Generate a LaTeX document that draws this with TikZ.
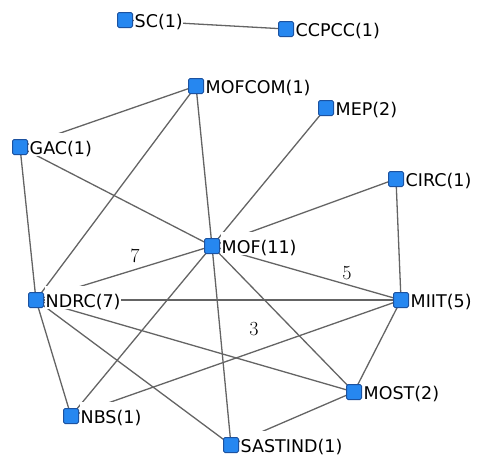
\documentclass[tikz,border=0pt]{standalone}
\usepackage{fontspec}
\newfontfamily\netfont{DejaVu Sans}
\usepackage{tikz}
\usetikzlibrary{backgrounds}
\definecolor{actorblue}{RGB}{38,135,240}
\definecolor{actorrim}{RGB}{28,82,160}
\definecolor{tiegray}{RGB}{100,100,100}

\begin{document}
\begin{tikzpicture}[x=1pt,y=-1pt,
    actor/.style={draw=actorrim,fill=actorblue,line width=1pt,rounded corners=1.5pt,minimum size=15pt,inner sep=0pt},
    actorname/.style={fill=white,font=\netfont\fontsize{17.5}{20}\selectfont,inner xsep=0.5pt,inner ysep=0pt,text height=22pt,text depth=1pt,anchor=base west},
    tie/.style={draw=tiegray,line width=1.3pt},
    tieweight/.style={font=\fontsize{20}{22}\selectfont}]
    \useasboundingbox (0,0) rectangle (477,456);

    % actors
    \node[actor] (sc)      at (125,20)  {};
    \node[actor] (ccpcc)   at (286,29)  {};
    \node[actor] (mofcom)  at (196,86)  {};
    \node[actor] (mep)     at (326,108) {};
    \node[actor] (gac)     at (20,147)  {};
    \node[actor] (circ)    at (396,179) {};
    \node[actor] (mof)     at (212,246) {};
    \node[actor] (ndrc)    at (36,300)  {};
    \node[actor] (miit)    at (401,300) {};
    \node[actor] (most)    at (354,392) {};
    \node[actor] (nbs)     at (71,416)  {};
    \node[actor] (sastind) at (231,445) {};

    % names
    \node[actorname] (sc-t)      at ([xshift=1pt,yshift=-7.5pt]sc.east)      {SC(1)};
    \node[actorname] (ccpcc-t)   at ([xshift=1pt,yshift=-7.5pt]ccpcc.east)   {CCPCC(1)};
    \node[actorname] (mofcom-t)  at ([xshift=1pt,yshift=-7.5pt]mofcom.east)  {MOFCOM(1)};
    \node[actorname] (mep-t)     at ([xshift=1pt,yshift=-7.5pt]mep.east)     {MEP(2)};
    \node[actorname] (gac-t)     at ([xshift=1pt,yshift=-7.5pt]gac.east)     {GAC(1)};
    \node[actorname] (circ-t)    at ([xshift=1pt,yshift=-7.5pt]circ.east)    {CIRC(1)};
    \node[actorname] (mof-t)     at ([xshift=1pt,yshift=-7.5pt]mof.east)     {MOF(11)};
    \node[actorname] (ndrc-t)    at ([xshift=1pt,yshift=-7.5pt]ndrc.east)    {NDRC(7)};
    \node[actorname] (miit-t)    at ([xshift=1pt,yshift=-7.5pt]miit.east)    {MIIT(5)};
    \node[actorname] (most-t)    at ([xshift=1pt,yshift=-7.5pt]most.east)    {MOST(2)};
    \node[actorname] (nbs-t)     at ([xshift=1pt,yshift=-7.5pt]nbs.east)     {NBS(1)};
    \node[actorname] (sastind-t) at ([xshift=1pt,yshift=-7.5pt]sastind.east) {SASTIND(1)};

    % weights
    \node[tieweight] (w7) at (135,256) {7};
    \node[tieweight] (w5) at (347,273) {5};
    \node[tieweight] (w3) at (254,329) {3};

    % ties
    \begin{scope}[on background layer]
        \draw[tie] (sc.center) -- (ccpcc.center);
        \draw[tie] (mofcom.center) -- (gac.center);
        \draw[tie] (mofcom.center) -- (ndrc.center);
        \draw[tie] (mofcom.center) -- (mof.center);
        \draw[tie] (mep.center) -- (mof.center);
        \draw[tie] (gac.center) -- (mof.center);
        \draw[tie] (gac.center) -- (ndrc.center);
        \draw[tie] (circ.center) -- (mof.center);
        \draw[tie] (circ.center) -- (miit.center);
        \draw[tie] (mof.center) -- (ndrc.center);
        \draw[tie] (mof.center) -- (miit.center);
        \draw[tie] (mof.center) -- (nbs.center);
        \draw[tie] (mof.center) -- (most.center);
        \draw[tie] (mof.center) -- (sastind.center);
        \draw[tie] (ndrc.center) -- (miit.center);
        \draw[tie] (ndrc.center) -- (nbs.center);
        \draw[tie] (ndrc.center) -- (sastind.center);
        \draw[tie] (ndrc.center) -- (most.center);
        \draw[tie] (miit.center) -- (nbs.center);
        \draw[tie] (miit.center) -- (most.center);
        \draw[tie] (most.center) -- (sastind.center);
    \end{scope}
\end{tikzpicture}
\end{document}
